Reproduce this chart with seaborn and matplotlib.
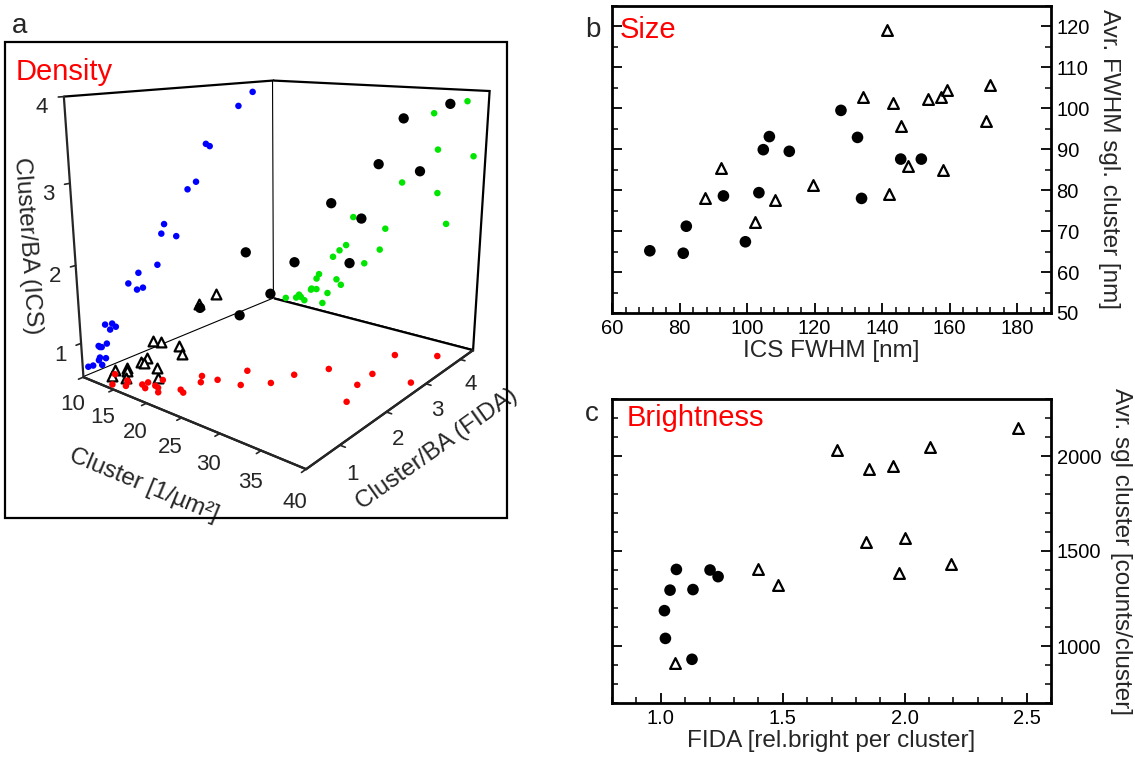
import numpy as np
import pandas as pd
import matplotlib
matplotlib.use("Agg")
import matplotlib.pyplot as plt
from matplotlib.patches import Rectangle
from matplotlib.ticker import MultipleLocator
import seaborn as sns

# ---------------- data ----------------
# panel a: 3D points (density, FIDA ratio, ICS ratio)
den_circ = [37.5, 33.5, 34.2, 38.6, 29.7, 34.4, 35.7, 22.9, 27.6, 26.9, 24.7, 19.9]
fida_circ = [3.91, 3.57, 2.83, 2.91, 2.60, 2.42, 1.93, 1.87, 2.16, 1.77, 1.48, 1.37]
ics_circ = [3.86, 3.68, 3.21, 3.17, 2.71, 2.63, 2.23, 2.11, 2.02, 1.70, 1.45, 1.45]

den_tri = [21.9, 20.9, 17.7, 20.5, 17.3, 21.2, 17.3, 16.5, 16.4, 19.1, 13.9, 15.3, 14.7, 18.3, 12.1, 14.4]
fida_tri = [1.41, 1.22, 0.78, 0.90, 0.96, 0.86, 0.65, 0.79, 0.70, 0.67, 0.46, 0.54, 0.64, 0.76, 0.69, 0.66]
ics_tri = [1.67, 1.57, 1.13, 1.11, 1.05, 1.04, 0.88, 0.87, 0.85, 0.86, 0.66, 0.65, 0.69, 0.68, 0.61, 0.72]

den_lim = [10, 40]
fida_lim = [0.37, 4.42]
ics_lim = [0.55, 4.0]

# panel b: size
size_circ_x = [71.2, 81.1, 82.0, 93.0, 99.5, 103.5, 104.8, 106.6, 112.5, 127.8, 132.7, 133.9, 145.5, 151.6]
size_circ_y = [65.2, 64.6, 71.2, 78.6, 67.4, 79.4, 89.9, 93.1, 89.5, 99.5, 92.9, 78.0, 87.6, 87.6]
size_tri_x = [87.4, 92.3, 102.3, 108.4, 119.5, 134.2, 141.4, 142.1, 143.1, 145.7, 147.8, 153.7, 157.4, 158.0, 159.1, 170.7, 171.8]
size_tri_y = [78.2, 85.5, 72.2, 77.6, 81.3, 102.7, 119.1, 79.0, 101.4, 95.8, 85.9, 102.3, 102.7, 84.9, 104.5, 96.8, 105.8]

# panel c: brightness
br_circ_x = [1.015, 1.019, 1.038, 1.064, 1.132, 1.128, 1.202, 1.235]
br_circ_y = [1186, 1040, 1294, 1403, 1297, 930, 1400, 1365]
br_tri_x = [1.058, 1.40, 1.482, 1.724, 1.841, 1.853, 1.953, 1.975, 2.001, 2.104, 2.188, 2.465]
br_tri_y = [913, 1403, 1320, 2033, 1548, 1930, 1948, 1383, 1570, 2048, 1431, 2148]

# ---------------- style ----------------
sns.set_theme(style="white")
plt.rcParams["font.family"] = ["Liberation Sans", "DejaVu Sans"]
plt.rcParams["axes.linewidth"] = 2.0

W, H = 1135, 760
fig = plt.figure(figsize=(W / 100, H / 100), dpi=100)
fig.patch.set_facecolor("white")

def fx(px):
    return px / W

def fy(py):
    return 1 - py / H

# ---------------- panel a (3D) ----------------
fig.add_artist(Rectangle((fx(5), fy(518)), fx(507) - fx(5), fy(42) - fy(518),
                         transform=fig.transFigure, fill=False, lw=1.6, ec="black"))
fig.text(fx(12), fy(26), "a", fontsize=20, ha="left", va="center")
fig.text(fx(16), fy(72), "Density", fontsize=21, color="red", ha="left", va="center")

ax3 = fig.add_axes([fx(50), fy(468), fx(510) - fx(50), fy(13) - fy(468)], projection="3d")
ax3.set_proj_type("persp", focal_length=0.32)
ax3.view_init(elev=14.5, azim=-52)
ax3.set_box_aspect((1.05, 1.15, 1.05), zoom=1.06)
ax3.set_facecolor("none")
ax3.grid(False)
for axis in (ax3.xaxis, ax3.yaxis, ax3.zaxis):
    axis.set_pane_color((1, 1, 1, 1))
    axis.pane.set_edgecolor("black")
    axis.pane.set_linewidth(1.6)
    axis.line.set_linewidth(1.6)
    axis._axinfo["tick"]["inward_factor"] = 0.25
    axis._axinfo["tick"]["outward_factor"] = 0.0
    axis._axinfo["tick"]["linewidth"] = {True: 1.2, False: 0.8}
ax3.zaxis.set_ticks_position("lower")
ax3.zaxis.set_label_position("lower")

ax3.set_xlim(*den_lim)
ax3.set_ylim(*fida_lim)
ax3.set_zlim(*ics_lim)

n_all = len(den_circ) + len(den_tri)
# projections on the panes
ax3.scatter(den_circ + den_tri, fida_circ + fida_tri, [ics_lim[0]] * n_all,
            s=22, c="#ff0000", depthshade=False, edgecolors="none")
ax3.scatter([den_lim[0]] * n_all, fida_circ + fida_tri, ics_circ + ics_tri,
            s=22, c="#0000ff", depthshade=False, edgecolors="none")
ax3.scatter(den_circ + den_tri, [fida_lim[1]] * n_all, ics_circ + ics_tri,
            s=22, c="#00e600", depthshade=False, edgecolors="none")
# 3D points
ax3.scatter(den_circ, fida_circ, ics_circ, s=55, c="black", depthshade=False,
            edgecolors="none")
ax3.scatter(den_tri, fida_tri, ics_tri, s=50, marker="^", facecolors="white",
            edgecolors="black", linewidths=1.6, depthshade=False)

ax3.set_xticks([10, 15, 20, 25, 30, 35, 40])
ax3.set_yticks([1, 2, 3, 4])
ax3.set_zticks([1, 2, 3, 4])
ax3.tick_params(axis="x", labelsize=16, pad=0)
ax3.tick_params(axis="y", labelsize=16, pad=0)
ax3.tick_params(axis="z", labelsize=16, pad=0)
ax3.set_xlabel("Cluster [1/µm²]", fontsize=17.5, labelpad=6)
ax3.set_ylabel("Cluster/BA (FIDA)", fontsize=17.5, labelpad=2)
ax3.set_zlabel("Cluster/BA (ICS)", fontsize=17.5, labelpad=-3)

# ---------------- panel b ----------------
axb = fig.add_axes([fx(612), fy(313), fx(1051) - fx(612), fy(6) - fy(313)])
df_bc = pd.DataFrame({"x": size_circ_x, "y": size_circ_y})
df_bt = pd.DataFrame({"x": size_tri_x, "y": size_tri_y})
sns.scatterplot(data=df_bc, x="x", y="y", ax=axb, s=70, color="black",
                edgecolor="none", marker="o")
sns.scatterplot(data=df_bt, x="x", y="y", ax=axb, s=60, marker="^",
                facecolor="white", edgecolor="black", linewidth=1.6)
axb.set_xlim(60, 190)
axb.set_ylim(50, 125)
axb.set_xticks([60, 80, 100, 120, 140, 160, 180])
axb.set_yticks([50, 60, 70, 80, 90, 100, 110, 120])
axb.xaxis.set_minor_locator(MultipleLocator(4))
axb.yaxis.set_minor_locator(MultipleLocator(5))
axb.set_xlabel("ICS FWHM [nm]", fontsize=17.5, labelpad=2)
axb.set_ylabel("Avr. FWHM sgl. cluster [nm]", fontsize=17.5, rotation=270,
               labelpad=22)
axb.yaxis.set_label_position("right")

# ---------------- panel c ----------------
axc = fig.add_axes([fx(612), fy(703), fx(1051) - fx(612), fy(399) - fy(703)])
df_cc = pd.DataFrame({"x": br_circ_x, "y": br_circ_y})
df_ct = pd.DataFrame({"x": br_tri_x, "y": br_tri_y})
sns.scatterplot(data=df_cc, x="x", y="y", ax=axc, s=70, color="black",
                edgecolor="none", marker="o")
sns.scatterplot(data=df_ct, x="x", y="y", ax=axc, s=60, marker="^",
                facecolor="white", edgecolor="black", linewidth=1.6)
axc.set_xlim(0.8, 2.6)
axc.set_ylim(700, 2300)
axc.set_xticks([1.0, 1.5, 2.0, 2.5])
axc.set_xticklabels(["1.0", "1.5", "2.0", "2.5"])
axc.xaxis.set_minor_locator(MultipleLocator(0.1))
axc.set_yticks([1000, 1500, 2000])
axc.yaxis.set_minor_locator(MultipleLocator(100))
axc.set_xlabel("FIDA [rel.bright per cluster]", fontsize=17.5, labelpad=2)
axc.set_ylabel("Avr. sgl cluster [counts/cluster]", fontsize=17.5, rotation=270,
               labelpad=22)
axc.yaxis.set_label_position("right")

for ax in (axb, axc):
    for sp in ax.spines.values():
        sp.set_linewidth(2.0)
        sp.set_color("black")
    ax.tick_params(axis="both", which="both", direction="in", top=False,
                   bottom=True, left=True, right=True, labelleft=False,
                   labelright=True, labelsize=14.5, colors="black", pad=4)
    ax.tick_params(axis="both", which="major", length=7, width=1.3)
    ax.tick_params(axis="both", which="minor", length=4.5, width=1.1)

fig.text(fx(585), fy(30), "b", fontsize=20, ha="left", va="center")
fig.text(fx(620), fy(30), "Size", fontsize=21, color="red", ha="left", va="center")
fig.text(fx(585), fy(414), "c", fontsize=20, ha="left", va="center")
fig.text(fx(627), fy(418), "Brightness", fontsize=21, color="red", ha="left", va="center")

fig.savefig("out.png", dpi=100, facecolor="white")
